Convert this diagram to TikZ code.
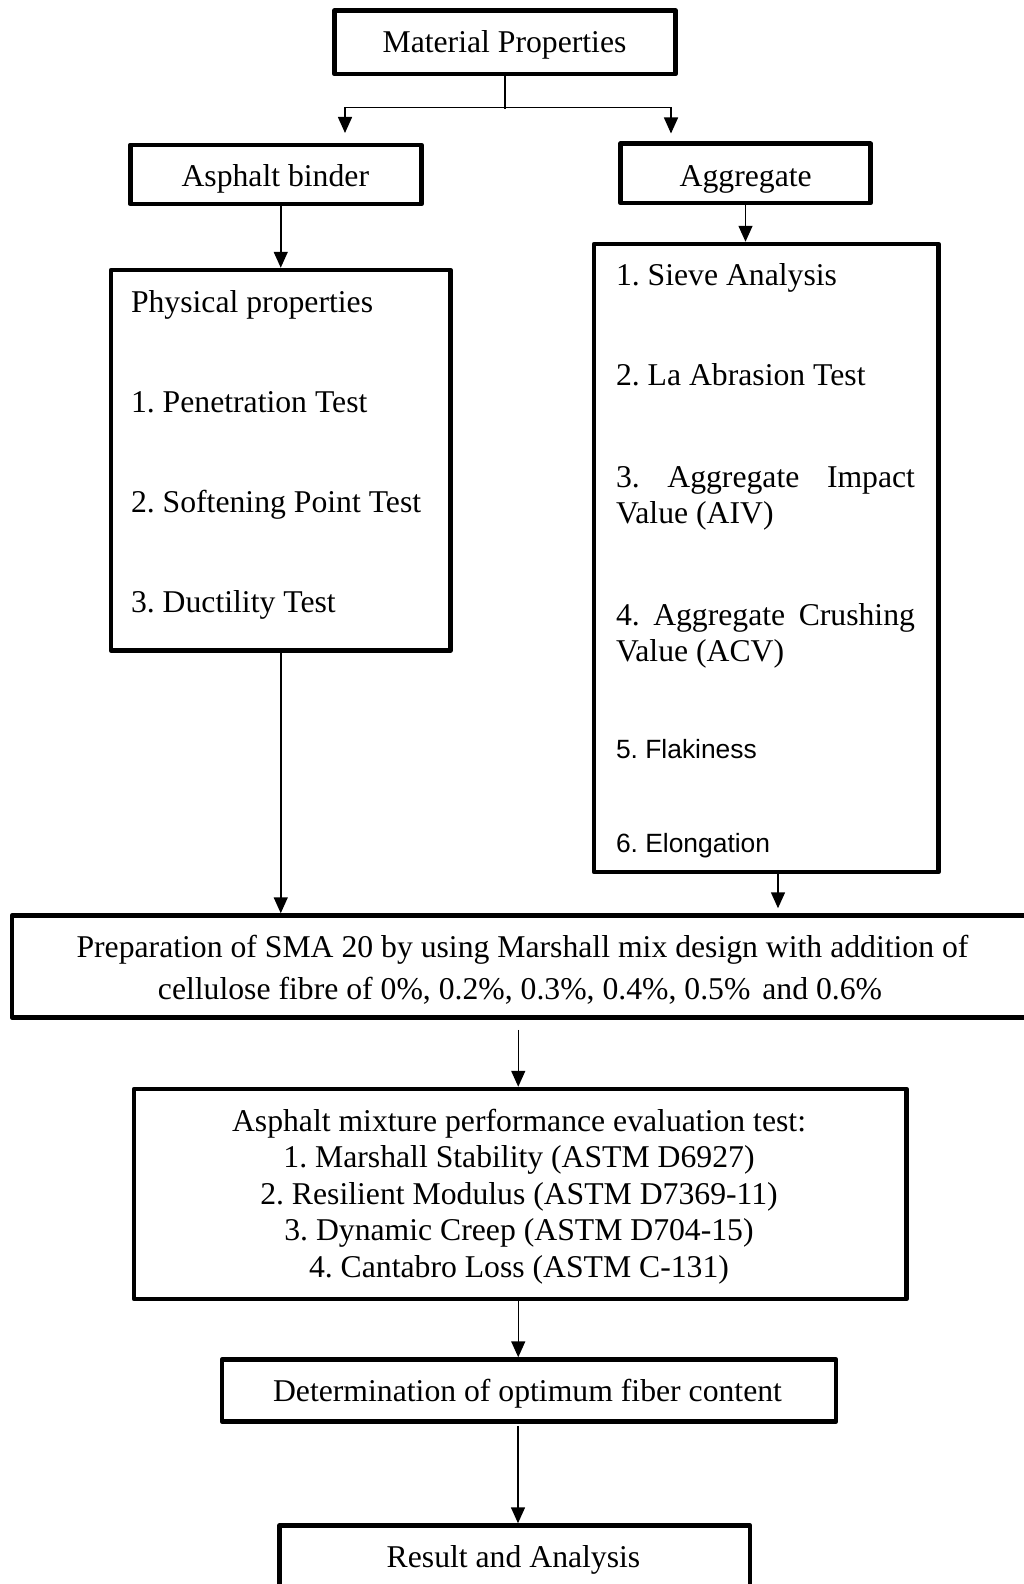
\documentclass[tikz,border=0pt]{standalone}
\usepackage{fontspec}
\setmainfont{Liberation Serif}
\newfontfamily\arialfont{Liberation Sans}
\usetikzlibrary{arrows.meta}
\frenchspacing
\begin{document}
\frenchspacing
\begin{tikzpicture}[x=1pt,y=-1pt,
  box/.style={draw=black, line width=4.5pt, line join=round, inner sep=0pt, outer sep=2.25pt},
  txt/.style={inner sep=0pt, outer sep=0pt, font=\frenchspacing\fontsize{31.7}{36.5}\selectfont},
  sans/.style={inner sep=0pt, outer sep=0pt, font=\frenchspacing\arialfont\fontsize{26.4}{30}\selectfont},
  conn/.style={line width=1.5pt},
  arr/.style={line width=1.5pt, -{Triangle[width=14pt,length=16pt]}}]
\useasboundingbox (0,0) rectangle (1024,1584);
\clip (0,0) rectangle (1024,1584);
\fill[white] (0,0) rectangle (1024,1584);

% boxes
\node[box, minimum width=341pt, minimum height=63.5pt] (mat) at (505,42.25) {};
\node[box, minimum width=291pt, minimum height=59.3pt] (binder) at (275.75,174.4) {};
\node[box, minimum width=250pt, minimum height=59.3pt] (agg) at (745.5,173.35) {};
\node[box, minimum width=339.5pt, minimum height=380.5pt] (physical) at (280.75,460.25) {};
\node[box, minimum width=344.5pt, minimum height=628pt] (tests) at (766.25,558) {};
\node[box, minimum width=1022pt, minimum height=102pt] (prep) at (523,966.5) {};
\node[box, minimum width=772.5pt, minimum height=210pt] (mix) at (520.25,1194) {};
\node[box, minimum width=614pt, minimum height=62pt] (det) at (529,1390.5) {};
\node[box, minimum width=470.5pt, minimum height=99.5pt] (result) at (514.75,1575.25) {};

% texts
\node[txt, anchor=base] (matT) at (504.5,52.5) {Material Properties};
\node[txt, anchor=base] (binderT) at (275.3,186.5) {Asphalt binder};
\node[txt, anchor=base] (aggT) at (745.7,186.5) {Aggregate};

\node[txt, anchor=base west] (p0) at (131,312) {Physical properties};
\node[txt, anchor=base west] (p1) at (131,412) {1. Penetration Test};
\node[txt, anchor=base west] (p2) at (131,512) {2. Softening Point Test};
\node[txt, anchor=base west] (p3) at (131,612) {3. Ductility Test};

\node[txt, anchor=base west] (t1) at (616,285) {1. Sieve Analysis};
\node[txt, anchor=base west] (t2) at (616,385) {2. La Abrasion Test};
\node[txt, anchor=base west] (t3a) at (616,487) {\makebox[299pt][s]{3. Aggregate Impact}};
\node[txt, anchor=base west] (t3b) at (616,523) {Value (AIV)};
\node[txt, anchor=base west] (t4a) at (616,625) {\makebox[299pt][s]{4. Aggregate Crushing}};
\node[txt, anchor=base west] (t4b) at (616,661) {Value (ACV)};
\node[sans, anchor=base west] (t5) at (616,758) {5. Flakiness};
\node[sans, anchor=base west] (t6) at (616,852) {6. Elongation};

\node[txt, anchor=base] (pr1) at (522.5,957) {Preparation of SMA 20 by using Marshall mix design with addition of};
\node[txt, anchor=base] (pr2) at (520,999) {cellulose fibre of 0\%, 0.2\%, 0.3\%, 0.4\%, 0.5\%\hspace{4pt} and 0.6\%};

\node[txt, anchor=base] (m1) at (519,1131.5) {Asphalt mixture performance evaluation test:};
\node[txt, anchor=base] (m2) at (519,1167.5) {1. Marshall Stability (ASTM D6927)};
\node[txt, anchor=base] (m3) at (519,1204) {2. Resilient Modulus (ASTM D7369-11)};
\node[txt, anchor=base] (m4) at (519,1240) {3. Dynamic Creep (ASTM D704-15)};
\node[txt, anchor=base] (m5) at (519,1277) {4. Cantabro Loss (ASTM C-131)};

\node[txt, anchor=base] (detT) at (527.5,1401) {Determination of optimum fiber content};
\node[txt, anchor=base] (resultT) at (513.5,1567) {Result and Analysis};

% connectors
\coordinate (split) at (505,107.5);
\coordinate (splitL) at (345,107.5);
\coordinate (splitR) at (671,107.5);
\coordinate (tipL) at (345,133);
\coordinate (tipR) at (671,133.5);
\draw[conn] (mat.south) -- ([yshift=-2pt]split);
\draw[arr] (split) -- (splitL) -- (tipL);
\draw[arr] (split) -- (splitR) -- (tipR);

\draw[arr] (binder.south -| physical.north) -- (physical.north);
\draw[arr] (agg.south) -- (agg.south |- tests.north);
\draw[arr] (physical.south) -- (physical.south |- prep.north);
\draw[arr, shorten >=5pt] ([xshift=11.75pt]tests.south) -- ([xshift=11.75pt]tests.south |- prep.north);
\draw[arr, shorten <=10pt] ([xshift=-2pt]mix.north |- prep.south) -- ([xshift=-2pt]mix.north);
\draw[arr] ([xshift=-2pt]mix.south) -- ([xshift=-2pt]mix.south |- det.north);
\draw[arr, shorten <=2pt] ([xshift=-11pt]det.south) -- ([xshift=-11pt]det.south |- result.north);
\end{tikzpicture}
\end{document}
